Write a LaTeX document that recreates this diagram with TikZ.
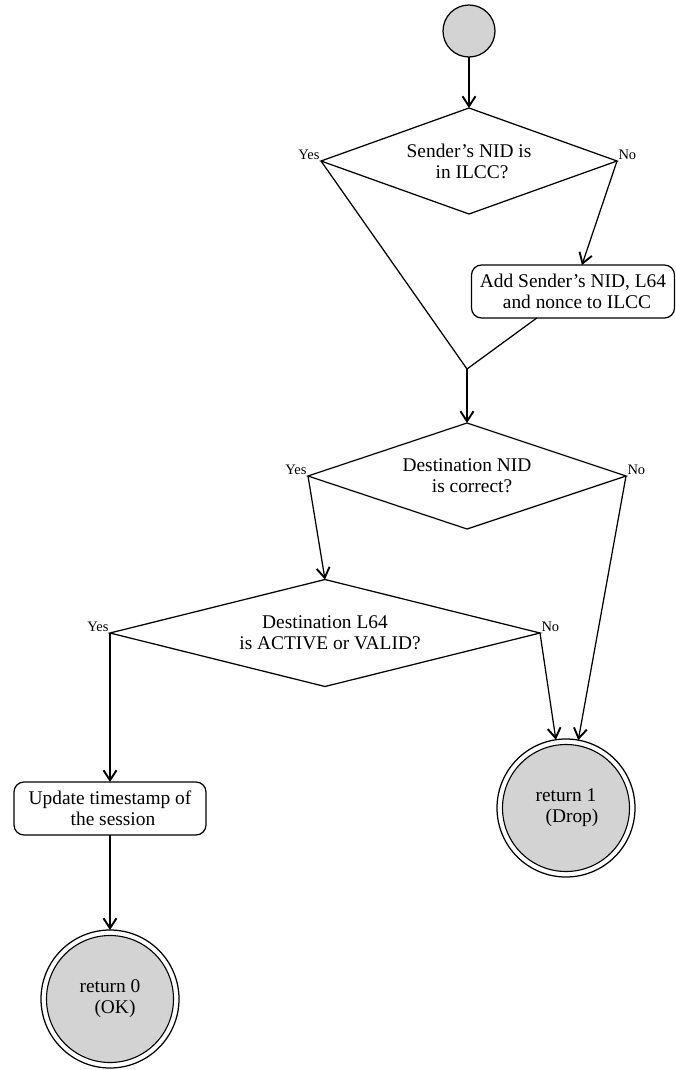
\documentclass[tikz,border=0pt]{standalone}
\usepackage{fontspec}
\setmainfont{Liberation Serif}
\usetikzlibrary{shapes.geometric,arrows.meta}

\definecolor{stategray}{RGB}{211,211,211}

\tikzset{
  every node/.style={outer sep=0pt},
  line/.style={line width=1.25pt, draw=black},
  arr/.style={line, -{Straight Barb[length=10pt,width=13pt,line width=1.9pt]}},
  txt/.style={font=\fontsize{19.4}{21}\selectfont, align=center},
  lbl/.style={font=\fontsize{14.5}{16}\selectfont, inner sep=1.5pt},
  decision/.style={txt, diamond, line, fill=white, inner sep=0pt},
  action/.style={txt, rectangle, rounded corners=10pt, line, fill=white,
                 minimum height=53pt, inner sep=0pt},
  startnode/.style={circle, line, fill=stategray, minimum size=52pt, inner sep=0pt},
  endnode/.style={txt, circle, line, fill=white, minimum size=138pt, inner sep=0pt,
                  path picture={\draw[line width=1.1pt, fill=stategray]
                    (path picture bounding box.center) circle[radius=63.5pt];}},
}

\begin{document}
\begin{tikzpicture}[x=1pt, y=-1pt]
  \useasboundingbox (0,0) rectangle (676,1070);

  % states and decisions
  \node[startnode] (start) at (469,31) {};
  \node[decision, minimum width=296pt, minimum height=106pt, aspect=2.8] (d1) at (469,161)
    {Sender’s NID is\\\hspace*{6pt}in ILCC?};
  \node[action, minimum width=203pt] (box1) at (573,291.5)
    {Add Sender’s NID, L64\\\hspace*{8pt}and nonce to ILCC};
  \coordinate (m) at (467,369);
  \node[decision, minimum width=318pt, minimum height=106pt, aspect=3] (d2) at (467,476)
    {Destination NID\\\hspace*{10pt}is correct?};
  \node[decision, minimum width=430pt, minimum height=107pt, aspect=4] (d3) at (325,633)
    {Destination L64\\\hspace*{10pt}is ACTIVE or VALID?};
  \node[action, minimum width=192pt] (box2) at (110,808.5)
    {Update timestamp of\\\hspace*{6pt}the session};
  \node[endnode] (ret1) at (566,808) {return 1\\\hspace*{12pt}(Drop)};
  \node[endnode] (ret0) at (110,999) {return 0\\\hspace*{10pt}(OK)};

  % branch labels
  \node[lbl, anchor=south east] at (d1.west) {Yes};
  \node[lbl, anchor=south west] at (d1.east) {No};
  \node[lbl, anchor=south east] at (d2.west) {Yes};
  \node[lbl, anchor=south west] at (d2.east) {No};
  \node[lbl, anchor=south east] at (d3.west) {Yes};
  \node[lbl, anchor=south west] at (d3.east) {No};

  % connectors
  \draw[arr] (start) -- (d1.north);
  \draw[line] (d1.west) -- (m);
  \draw[arr] (d1.east) -- (box1);
  \draw[line] (box1) -- (m);
  \draw[arr] (m) -- (d2.north);
  \draw[arr] (d2.west) -- (d3.north);
  \draw[arr] (d2.east) -- (ret1);
  \draw[arr] (d3.east) -- (ret1);
  \draw[arr] (d3.west) -- (box2.north);
  \draw[arr] (box2) -- (ret0);
\end{tikzpicture}
\end{document}
